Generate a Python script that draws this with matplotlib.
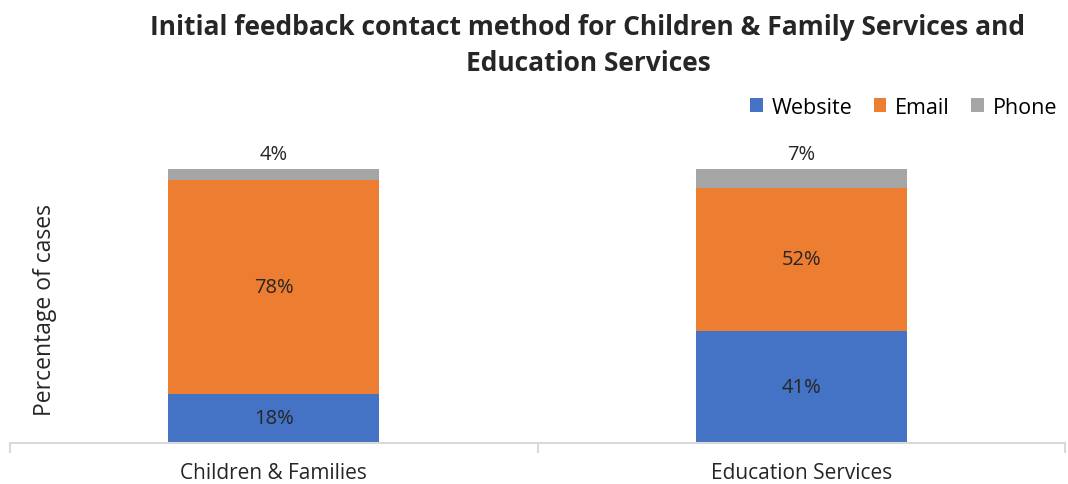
import numpy as np
import matplotlib.pyplot as plt

categories = ['Children & Families', 'Education Services']
series_names = ['Website', 'Email', 'Phone']
website = [18, 41]
email = [78, 52]
phone = [4, 7]
colors = ['#4472C4', '#ED7D31', '#A5A5A5']

plt.rcParams['font.family'] = ['Open Sans', 'DejaVu Sans']

fig = plt.figure(figsize=(10.68, 4.85), dpi=100)
W, H = 1068, 485
ax = fig.add_axes([10 / W, (H - 444) / H, 1055 / W, 274 / H])

x = np.arange(len(categories))
bottom = np.zeros(len(categories))
for name, vals, col in zip(series_names, [website, email, phone], colors):
    vals = np.array(vals, dtype=float)
    ax.bar(x, vals, 0.4, bottom=bottom, color=col, label=name)
    for xi, b, v in zip(x, bottom, vals):
        if name == 'Phone':
            ax.text(xi, b + v + 2, f'{v:.0f}%', ha='center', va='bottom',
                    fontsize=14.5, color='#262626', clip_on=False)
        else:
            ax.text(xi, b + v / 2, f'{v:.0f}%', ha='center', va='center',
                    fontsize=14.5, color='#262626')
    bottom += vals

ax.set_xlim(-0.5, 1.5)
ax.set_ylim(0, 100)
ax.set_yticks([])
ax.set_xticks(x)
ax.set_xticklabels(categories, fontsize=15, color='#262626')
ax.tick_params(axis='x', which='major', length=0, pad=14)
ax.set_xticks([-0.5, 0.5, 1.5], minor=True)
ax.tick_params(axis='x', which='minor', length=7, color='#D9D9D9', width=1.5)
for s in ['top', 'right', 'left']:
    ax.spines[s].set_visible(False)
ax.spines['bottom'].set_color('#D9D9D9')
ax.spines['bottom'].set_linewidth(1.5)

fig.text(45 / W, 1 - 310 / H, 'Percentage of cases', rotation=90,
         ha='center', va='center', fontsize=16.5, color='#262626')

fig.suptitle('Initial feedback contact method for Children & Family Services and\nEducation Services',
             x=588 / W, y=1 - 14 / H, ha='center', va='top', fontsize=19,
             fontweight='bold', color='#262626', linespacing=1.45)

ax.legend(loc='center right', bbox_to_anchor=(1066 / W, 1 - 108 / H),
          bbox_transform=fig.transFigure, ncol=3, frameon=False, fontsize=15.5,
          handlelength=0.6, handleheight=0.6, handletextpad=0.4, columnspacing=1.0,
          borderaxespad=0)

fig.savefig('out.png', dpi=100)
